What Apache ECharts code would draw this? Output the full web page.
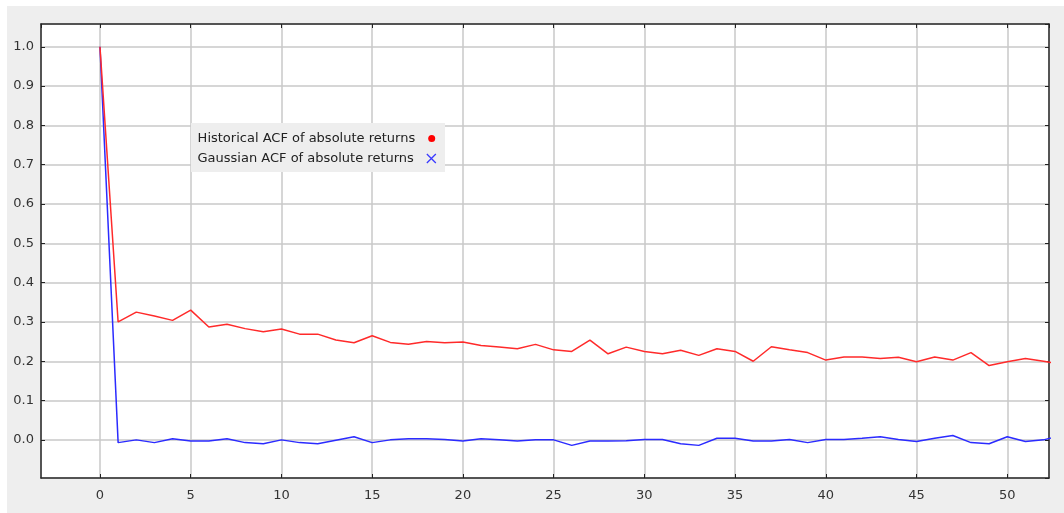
<!DOCTYPE html>
<html>
<head>
<meta charset="utf-8">
<script src="https://cdn.jsdelivr.net/npm/echarts@6/dist/echarts.min.js"></script>
<style>
  html, body { margin: 0; padding: 0; background: #ffffff; }
  #chart { width: 1064px; height: 513px; }
</style>
</head>
<body>
<div id="chart"></div>
<script>
// Autocorrelation of absolute returns by lag
const lags = [0,1,2,3,4,5,6,7,8,9,10,11,12,13,14,15,16,17,18,19,20,21,22,23,24,25,26,
  27,28,29,30,31,32,33,34,35,36,37,38,39,40,41,42,43,44,45,46,47,48,49,50,51,52,53];

const historicalAcf = [1.000,0.300,0.325,0.315,0.304,0.330,0.287,0.294,0.283,0.275,0.282,
  0.269,0.269,0.254,0.247,0.265,0.248,0.243,0.250,0.247,0.249,0.240,0.236,0.232,0.243,
  0.229,0.225,0.254,0.219,0.236,0.225,0.219,0.228,0.215,0.232,0.225,0.200,0.237,0.229,
  0.222,0.203,0.211,0.211,0.207,0.210,0.199,0.211,0.203,0.222,0.189,0.199,0.207,0.200,0.192];

const gaussianAcf = [1.000,-0.007,0.000,-0.007,0.003,-0.003,-0.003,0.003,-0.007,-0.010,0.000,
  -0.007,-0.010,-0.001,0.008,-0.007,0.000,0.003,0.003,0.001,-0.003,0.003,0.000,-0.003,0.000,
  0.000,-0.014,-0.003,-0.003,-0.002,0.001,0.001,-0.010,-0.014,0.004,0.004,-0.003,-0.003,0.001,
  -0.007,0.001,0.001,0.004,0.008,0.001,-0.004,0.004,0.011,-0.007,-0.010,0.008,-0.004,0.000,0.012];

const seriesNames = ['Historical ACF of absolute returns', 'Gaussian ACF of absolute returns'];

// Visible axis windows
const xRange = [-3.25, 52.3];
const yRange = [-0.097, 1.058];

const histData = lags.map((l, i) => [l, historicalAcf[i]]);
const gaussData = lags.map((l, i) => [l, gaussianAcf[i]]);

const FONT = 'DejaVu Sans';
const FONT_SIZE = 13;
const gridLine = { show: true, lineStyle: { color: '#c9c9c9', width: 1.5 } };
const frameLine = { show: true, onZero: false, lineStyle: { color: '#2a2a2a', width: 1.5 } };
const innerTick = { show: true, inside: true, length: 4, lineStyle: { color: '#222', width: 1 } };

function xAxisDef(showLabels, position) {
  return {
    type: 'value', position: position,
    min: xRange[0], max: xRange[1], splitNumber: 11, minInterval: 5, maxInterval: 5,
    axisLine: frameLine,
    axisTick: innerTick,
    axisLabel: {
      show: showLabels, showMinLabel: false, showMaxLabel: false, margin: 11,
      color: '#333', fontFamily: FONT, fontSize: FONT_SIZE,
      formatter: v => String(Math.round(v))
    },
    splitLine: showLabels ? gridLine : { show: false }
  };
}

function yAxisDef(showLabels, position) {
  return {
    type: 'value', position: position,
    min: yRange[0], max: yRange[1], splitNumber: 11, minInterval: 0.1, maxInterval: 0.1,
    axisLine: frameLine,
    axisTick: innerTick,
    axisLabel: {
      show: showLabels, showMinLabel: false, showMaxLabel: false, margin: 7,
      color: '#333', fontFamily: FONT, fontSize: FONT_SIZE,
      formatter: v => v.toFixed(1)
    },
    splitLine: showLabels ? gridLine : { show: false }
  };
}

const chart = echarts.init(document.getElementById('chart'), null, { renderer: 'canvas' });

chart.setOption({
  backgroundColor: '#ffffff',
  animation: false,
  graphic: [
    // outer panel
    { type: 'rect', z: -10, silent: true,
      shape: { x: 7, y: 6, width: 1057, height: 507 },
      style: { fill: '#eeeeee' } },
    // legend box
    { type: 'rect', z: 3, silent: true,
      shape: { x: 191, y: 123, width: 254, height: 49 },
      style: { fill: '#eeeeee' } }
  ],
  grid: {
    left: 41, right: 15, top: 24, bottom: 35,
    show: true, backgroundColor: '#ffffff', borderWidth: 0
  },
  xAxis: [xAxisDef(true, 'bottom'), xAxisDef(false, 'top')],
  yAxis: [yAxisDef(true, 'left'), yAxisDef(false, 'right')],
  legend: [
    {
      orient: 'vertical', align: 'right', right: 628.8, top: 132, padding: 0, z: 5,
      itemWidth: 7, itemHeight: 7,
      textStyle: { color: '#222', fontFamily: FONT, fontSize: FONT_SIZE, padding: [0, 8, 0, 0] },
      data: [{ name: seriesNames[0], icon: 'circle',
        itemStyle: { color: '#ff0000', borderWidth: 0 } }]
    },
    {
      orient: 'vertical', align: 'right', right: 627.5, top: 152, padding: 0, z: 5,
      itemWidth: 9, itemHeight: 9,
      textStyle: { color: '#222', fontFamily: FONT, fontSize: FONT_SIZE, padding: [0, 8, 0, 0] },
      data: [{ name: seriesNames[1], icon: 'path://M0,0L10,10M0,10L10,0',
        itemStyle: { color: 'rgba(0,0,0,0)', borderColor: '#3a3aff', borderWidth: 1.3 } }]
    }
  ],
  series: [
    {
      name: seriesNames[1], type: 'line', data: gaussData,
      xAxisIndex: 0, yAxisIndex: 0, showSymbol: false, symbol: 'none', clip: true,
      lineStyle: { color: '#2b2bff', width: 1.5 }, itemStyle: { color: '#2b2bff' }, z: 2
    },
    {
      name: seriesNames[0], type: 'line', data: histData,
      xAxisIndex: 0, yAxisIndex: 0, showSymbol: false, symbol: 'none', clip: true,
      lineStyle: { color: '#ff2a2a', width: 1.5 }, itemStyle: { color: '#ff2a2a' }, z: 3
    }
  ]
});
</script>
</body>
</html>
